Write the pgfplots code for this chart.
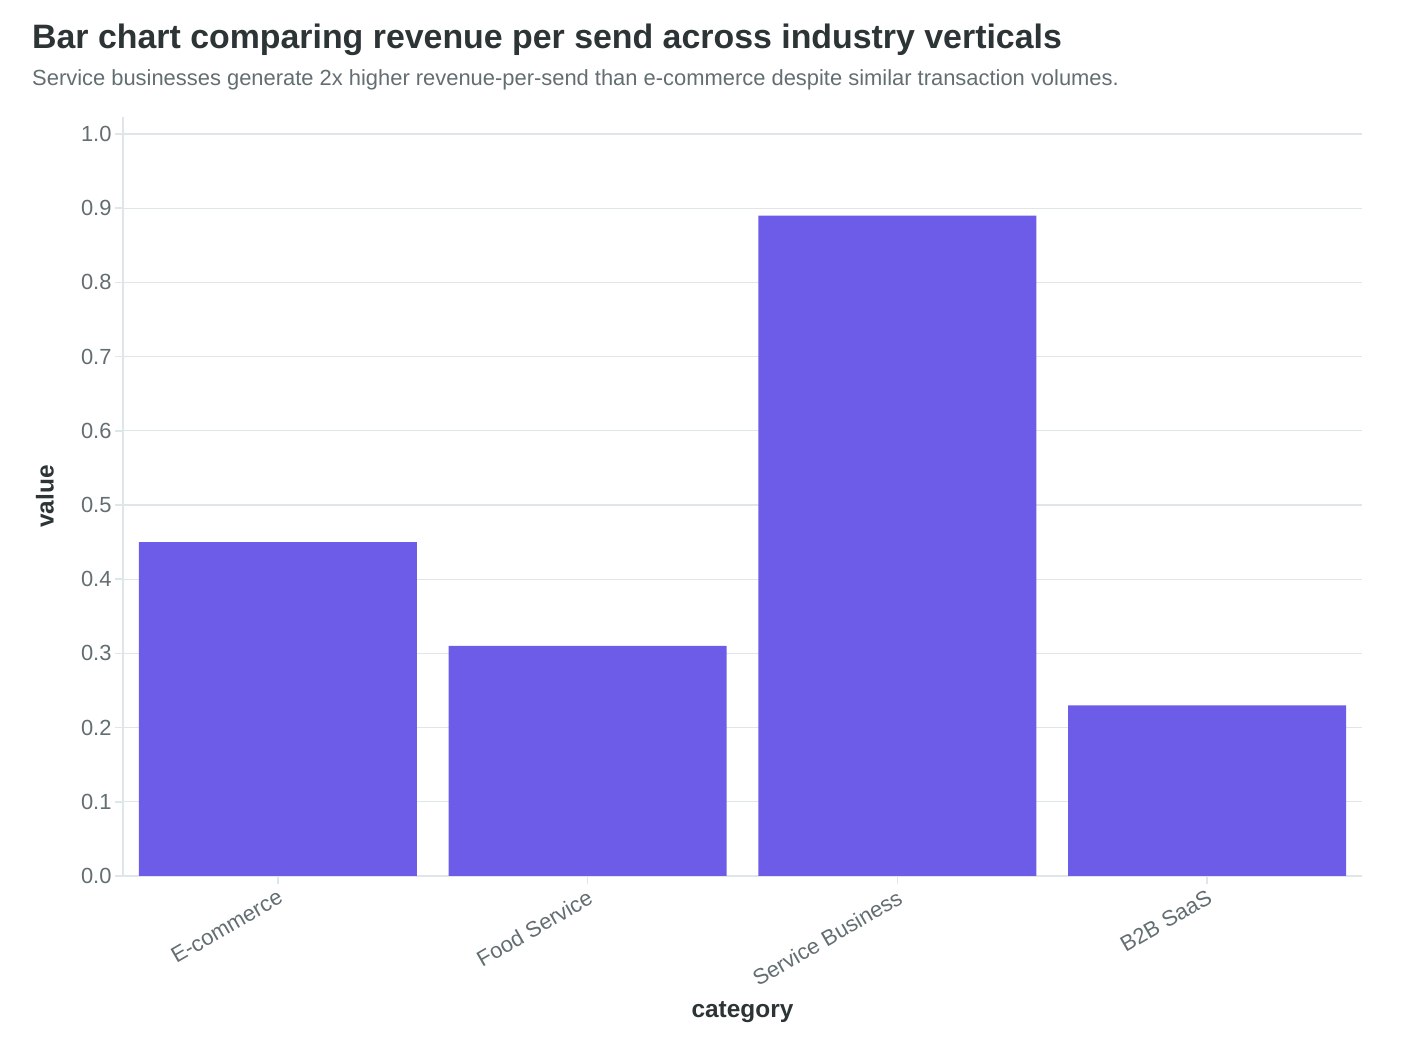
\documentclass[border=0pt]{standalone}
\usepackage{pgfplots}
\pgfplotsset{compat=1.18}
\usepackage{fontspec}
\setmainfont{Liberation Sans}

\definecolor{barc}{HTML}{6C5CE7}
\definecolor{gridc}{HTML}{DFE6E9}
\definecolor{tickc}{HTML}{636E72}
\definecolor{titlec}{HTML}{2D3436}

\begin{document}
\begin{tikzpicture}
\useasboundingbox[fill=white] (0,0) rectangle (1412bp,1054bp);

% title and subtitle
\node[anchor=base west, inner sep=0, text=titlec,
      font=\fontsize{34}{40}\selectfont\bfseries] at (32bp,1005bp)
  {Bar chart comparing revenue per send across industry verticals};
\node[anchor=base west, inner sep=0, text=tickc,
      font=\fontsize{22}{26}\selectfont] at (32bp,968bp)
  {Service businesses generate 2x higher revenue-per-send than e-commerce despite similar transaction volumes.};

\begin{axis}[
  at={(123bp,178bp)}, anchor=south west,
  scale only axis, width=1239bp, height=759bp,
  xmin=-0.5, xmax=3.5, ymin=0, ymax=1.0229,
  axis x line*=bottom, axis y line*=left,
  axis line style={gridc, line width=1.6bp, -},
  ymajorgrids, grid style={gridc, line width=1.3bp},
  tick style={gridc, line width=1.5bp},
  major tick length=8bp, tick align=outside,
  xtick={0,1,2,3},
  xticklabels={E-commerce, Food Service, Service Business, B2B SaaS},
  ytick={0,0.1,0.2,0.3,0.4,0.5,0.6,0.7,0.8,0.9,1.0},
  yticklabel style={/pgf/number format/fixed, /pgf/number format/precision=1,
                    /pgf/number format/fixed zerofill, text=tickc,
                    font=\fontsize{22}{26}\selectfont},
  /pgf/number format/assume math mode=true,
  xticklabel style={rotate=30, anchor=north east, text=tickc,
                    font=\fontsize{22}{26}\selectfont},
  xlabel={category}, ylabel={value},
  every axis x label/.append style={at={(axis description cs:0.5,-0.179)},
                    anchor=center, text=titlec,
                    font=\fontsize{24.5}{29}\selectfont\bfseries},
  every axis y label/.append style={at={(axis description cs:-0.063,0.5)},
                    anchor=center, text=titlec,
                    font=\fontsize{24.5}{29}\selectfont\bfseries},
  ybar, bar width=0.897,
]
\addplot[fill=barc, draw=none] coordinates {
  (0,0.45) (1,0.31) (2,0.89) (3,0.23)
};
\end{axis}
\end{tikzpicture}
\end{document}
